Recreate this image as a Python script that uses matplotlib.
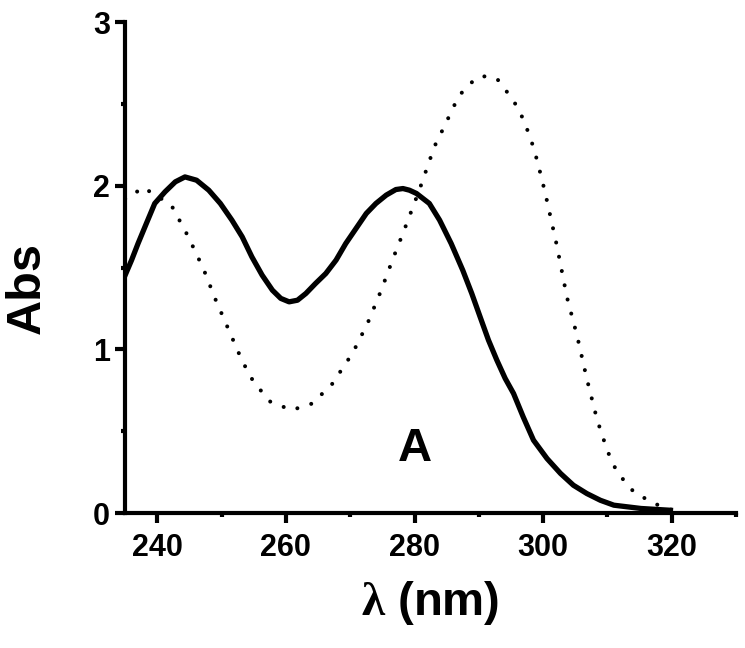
import matplotlib
matplotlib.use("Agg")
import matplotlib.pyplot as plt
from matplotlib.ticker import MultipleLocator

plt.rcParams['font.family'] = ['Liberation Sans', 'DejaVu Sans']
plt.rcParams['font.weight'] = 'bold'
plt.rcParams['mathtext.fontset'] = 'custom'
plt.rcParams['mathtext.rm'] = 'Liberation Serif'

# solid spectrum
wl_solid = [235.0, 236.0, 237.0, 238.3, 239.6, 241.2, 242.8, 244.3, 246.1, 248.0,
            249.8, 251.6, 253.2, 254.7, 256.3, 257.9, 259.2, 260.5, 261.8, 263.1,
            264.6, 266.2, 267.8, 269.3, 270.9, 272.5, 274.0, 275.6, 277.1, 278.2,
            279.2, 280.3, 282.3, 283.9, 285.7, 287.5, 288.9, 290.2, 291.5, 292.8,
            294.1, 295.4, 296.9, 298.5, 300.6, 302.7, 304.7, 306.8, 308.9, 311.0,
            315.2, 319.8]
abs_solid = [1.454, 1.546, 1.647, 1.770, 1.892, 1.963, 2.024, 2.054, 2.034, 1.973,
             1.892, 1.790, 1.688, 1.566, 1.454, 1.362, 1.312, 1.291, 1.301, 1.342,
             1.403, 1.464, 1.546, 1.647, 1.739, 1.831, 1.892, 1.943, 1.977, 1.983,
             1.973, 1.953, 1.892, 1.790, 1.647, 1.484, 1.342, 1.199, 1.057, 0.935,
             0.823, 0.731, 0.588, 0.446, 0.334, 0.243, 0.171, 0.120, 0.079, 0.049,
             0.029, 0.018]

# dotted spectrum
wl_dot = [235, 236, 237.5, 239.1, 242.2, 244.8, 247.2, 249.0, 251.1, 253.2, 255.0,
          257.6, 260.9, 264.1, 267.2, 270.4, 272.7, 274.8, 276.6, 278.4, 280.8,
          283.1, 284.6, 286.9, 289.6, 291.2, 292.9, 295.4, 297.0, 298.2, 299.1,
          300.3, 302.1, 303.7, 305.3, 306.8, 308.4, 310.0, 311.5, 314.1, 317.2, 320]
abs_dot = [1.92, 1.93, 1.99, 1.96, 1.88, 1.69, 1.49, 1.31, 1.12, 0.93, 0.80,
           0.68, 0.63, 0.67, 0.79, 0.98, 1.16, 1.36, 1.55, 1.73, 1.98,
           2.24, 2.36, 2.55, 2.66, 2.67, 2.65, 2.52, 2.40, 2.27, 2.15,
           1.96, 1.64, 1.32, 1.08, 0.82, 0.57, 0.38, 0.25, 0.13, 0.06, 0.02]

fig = plt.figure(figsize=(7.45, 6.48), dpi=100)
ax = fig.add_axes([0.168, 0.208, 0.820, 0.758])

ax.plot(wl_solid, abs_solid, color='black', lw=3.8, solid_joinstyle='round')
ax.plot(wl_dot, abs_dot, color='black', lw=2.9, linestyle=(0, (0.01, 3.6)),
        dash_capstyle='round')

ax.set_xlim(235, 330)
ax.set_ylim(0, 3)
ax.xaxis.set_major_locator(MultipleLocator(20))
ax.xaxis.set_minor_locator(MultipleLocator(10))
ax.yaxis.set_major_locator(MultipleLocator(1))
ax.yaxis.set_minor_locator(MultipleLocator(0.5))

for s in ['top', 'right']:
    ax.spines[s].set_visible(False)
for s in ['left', 'bottom']:
    ax.spines[s].set_linewidth(3)

ax.tick_params(which='major', direction='out', length=7, width=3, labelsize=22)
ax.tick_params(which='minor', direction='out', length=3, width=3)
ax.tick_params(axis='x', which='major', pad=7)
ax.tick_params(axis='y', which='major', pad=4)

ax.set_xlabel(r'$\mathrm{\lambda}$ (nm)', fontsize=34, fontweight='bold')
ax.set_ylabel('Abs', fontsize=35, fontweight='bold')
ax.xaxis.set_label_coords(0.5, -0.133)
ax.yaxis.set_label_coords(-0.124, 0.458)

ax.text(280, 0.32, 'A', fontsize=34, fontweight='bold', ha='center', va='baseline')

fig.savefig('out.png', dpi=100)
